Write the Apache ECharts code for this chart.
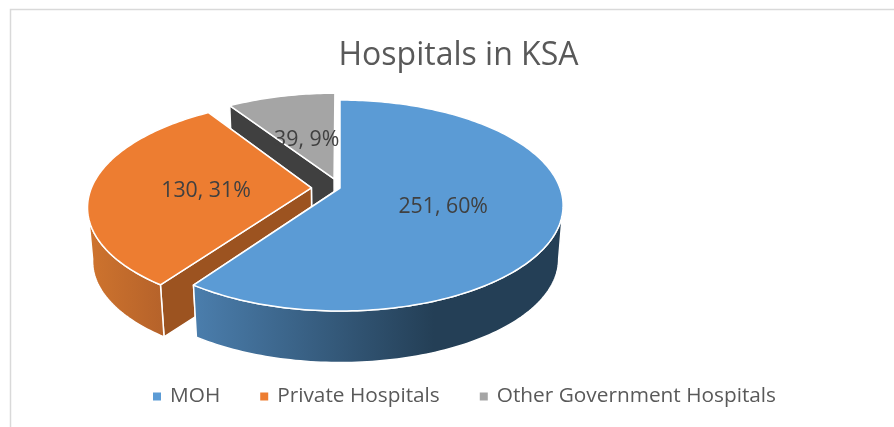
<!DOCTYPE html>
<html>
	<head>
		<meta charset="UTF-8">
		<title>Hospitals in KSA</title>
		<script src="https://cdn.jsdelivr.net/npm/echarts@6/dist/echarts.min.js"></script>
		<style>
			html, body { margin: 0; padding: 0; background: #fff; }
		</style>
	</head>
	<body>
		<div id="main" style="width: 894px;height:427px;"></div>
	</body>
	<script type="application/javascript">
		var chartTitle = "Hospitals in KSA";
		var categories = ["MOH", "Private Hospitals", "Other Government Hospitals"];
		var hospitals = [251, 130, 39];

		var topColors = ["#5B9BD5", "#ED7D31", "#A5A5A5"];
		var cutColors = ["#2F5577", "#9C5320", "#404040"];
		var wallColors = [
			[[0, "#4B7EAD"], [0.65, "#243F56"], [1, "#243F56"]],
			[[0, "#CF742E"], [1, "#B5622A"]],
			[[0, "#636363"], [1, "#636363"]]
		];
		var explode = [0, 0.13, 0.095];

		// pie seen from above: the apex, the two half axes and the perspective
		var apexX = 340, apexY = 188, axisX = 220, axisY = 102.6, persp = 0.166;
		var depth = 54, bottomScale = 0.98, labelRadius = 0.48;

		var total = 0;
		for(var i = 0; i < hospitals.length; i++) {
			total += hospitals[i];
		}

		// angle is clockwise from north, radians
		function project(angle, r, offset, bottom) {
			var u = r * Math.sin(angle) + offset[0];
			var v = -r * Math.cos(angle) + offset[1];
			var w = 1 - persp * v;
			var x = axisX * u / w;
			var y = axisY * v / w;
			if(bottom) {
				return [apexX + x * bottomScale, apexY + y * bottomScale + depth];
			}
			return [apexX + x, apexY + y];
		}

		function arc(from, to, offset, bottom) {
			var pts = [];
			var steps = Math.max(2, Math.ceil(Math.abs(to - from) / 0.02));
			for(var s = 0; s <= steps; s++) {
				pts.push(project(from + (to - from) * s / steps, 1, offset, bottom));
			}
			return pts;
		}

		function cutFace(angle, offset, color) {
			return poly([
				project(angle, 0, offset, false),
				project(angle, 1, offset, false),
				project(angle, 1, offset, true),
				project(angle, 0, offset, true)
			], color);
		}

		function poly(points, fill) {
			return {
				type: 'polygon',
				shape: { points: points },
				style: { fill: fill, stroke: '#fff', lineWidth: 1.5, lineJoin: 'round' }
			};
		}

		function sliceRenderer(index) {
			return function(params, api) {
				var before = 0;
				for(var i = 0; i < index; i++) {
					before += hospitals[i];
				}
				var value = api.value(0);
				var start = before / total * Math.PI * 2;
				var end = (before + value) / total * Math.PI * 2;
				var mid = (start + end) / 2;
				var offset = [explode[index] * Math.sin(mid), -explode[index] * Math.cos(mid)];
				var children = [];

				// the end cut faces away, so it goes first
				children.push(cutFace(end, offset, cutColors[index]));
				children.push(cutFace(start, offset, cutColors[index]));

				// outer wall, only the part that faces the viewer
				var tangent = Math.acos(-persp);
				var wallFrom = Math.max(start, tangent);
				var wallTo = Math.min(end, Math.PI * 2 - tangent);
				if(wallTo > wallFrom) {
					var wall = arc(wallFrom, wallTo, offset, false).concat(arc(wallTo, wallFrom, offset, true));
					var fill = new echarts.graphic.LinearGradient(0, 0, 1, 0, wallColors[index].map(function(c) {
						return { offset: c[0], color: c[1] };
					}));
					children.push(poly(wall, fill));
				}

				// top face
				var top = [project(start, 0, offset, false)].concat(arc(start, end, offset, false));
				children.push(poly(top, topColors[index]));

				var pos = project(mid, labelRadius, offset, false);
				children.push({
					type: 'text',
					x: pos[0],
					y: pos[1] + 3.5,
					style: {
						text: value + ", " + Math.round(value / total * 100) + "%",
						fill: '#404040',
						font: '21.3px "Open Sans"',
						align: 'center',
						verticalAlign: 'middle'
					}
				});
				return { type: 'group', children: children };
			};
		}

		var series = [];
		for(var k = 0; k < categories.length; k++) {
			series.push({
				name: categories[k],
				type: 'custom',
				coordinateSystem: 'none',
				animation: false,
				silent: true,
				z: 10 - k,
				itemStyle: { color: topColors[k] },
				data: [[hospitals[k]]],
				renderItem: sliceRenderer(k)
			});
		}

		var myChart = echarts.init(document.getElementById('main'), null, { renderer: 'canvas' });
		myChart.setOption({
			backgroundColor: '#fff',
			animation: false,
			title: {
				text: chartTitle,
				left: 453.5,
				top: 35,
				textAlign: 'center',
				textStyle: { color: '#595959', fontFamily: 'Open Sans', fontSize: 32, fontWeight: 'normal' }
			},
			legend: {
				data: categories,
				left: 148,
				top: 381,
				icon: 'rect',
				itemWidth: 8,
				itemHeight: 8,
				itemGap: 40,
				textStyle: { color: '#595959', fontFamily: 'Open Sans', fontSize: 20.8, padding: [0, 0, 0, 4] },
				selectedMode: false
			},
			graphic: [{
				type: 'rect',
				silent: true,
				z: 0,
				shape: { x: 10.5, y: 9.5, width: 1000, height: 1000 },
				style: { fill: 'none', stroke: '#D9D9D9', lineWidth: 1.5 }
			}],
			series: series
		});
	</script>
</html>
